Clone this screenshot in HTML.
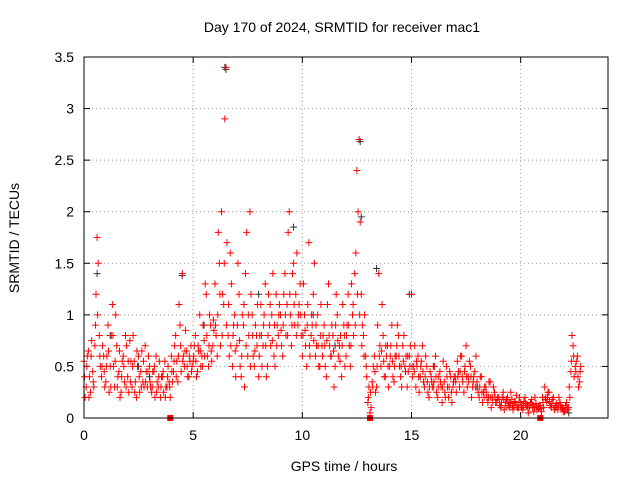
<!DOCTYPE html>
<html><head><meta charset="utf-8"><style>
body{margin:0;background:#fff;}
svg{display:block;font-family:"Liberation Sans",sans-serif;}
</style></head><body>
<svg id="chart" width="640" height="480" viewBox="0 0 640 480">
<rect x="0" y="0" width="640" height="480" fill="#fff"/>
<text x="342" y="32" font-size="14" text-anchor="middle">Day 170 of 2024, SRMTID for receiver mac1</text>
<text x="344" y="471" font-size="14" text-anchor="middle">GPS time / hours</text>
<text transform="translate(19,238) rotate(-90)" font-size="14" text-anchor="middle">SRMTID / TECUs</text>
<g id="grid"></g>
<g id="axes"></g>
<g id="marks"></g>
<rect x="84" y="57" width="524" height="361" fill="none" stroke="#000" stroke-width="1"/>
</svg>
<script>
const xTicks=[0,5,10,15,20];
const yTicks=[0,0.5,1,1.5,2,2.5,3,3.5];
const yTickLabels=["0","0.5","1","1.5","2","2.5","3","3.5"];
const redA=[0.55,0.3,0.65,0.25,0.45,0.7,1.75,0.8,0.4,0.6,
0.35,0.9,0.5,1.1,0.3,0.7,0.45,0.25,0.6,0.8,
0.4,0.75,0.3,0.55,0.2,0.6,0.45,0.35,0.7,0.3,
0.5,0.25,0.45,0.6,0.3,0.2,0.4,0.55,0.3,0.35,
0.6,0.45,0.8,0.35,0.9,1.4,0.5,0.65,0.4,0.7,
0.55,0.8,0.45,1.0,0.6,0.75,1.2,0.5,0.9,0.7,
1.3,0.6,1.5,2.0,1.1,3.4,0.8,1.6,0.5,1.0,
0.7,1.2,0.4,0.9,1.4,0.6,2.0,1.0,0.5,0.8,
0.4,1.1,0.7,1.3,0.5,0.9,1.0,0.6,1.2,0.8,
1.0,0.6,1.4,1.1,2.0,0.7,1.5,1.2,0.9,1.3,
0.6,1.0,0.5,1.7,0.8,1.2,0.6,1.0,0.5,0.7,
0.9,0.4,1.3,0.6,0.8,0.5,1.0,0.7,0.4,0.9,
0.6,1.2,0.5,1.0,1.4,2.4,2.7,1.2,0.8,0.6,
0.15,0.05,0.35,0.6,0.3,1.4,0.5,0.8,0.4,0.7,
0.5,0.9,0.35,0.6,0.8,0.4,0.7,0.5,0.3,0.6,
1.2,0.5,0.3,0.6,0.4,0.7,0.3,0.5,0.2,0.4,
0.3,0.6,0.2,0.45,0.15,0.35,0.5,0.2,0.4,0.3,
0.4,0.55,0.3,0.6,0.25,0.7,0.4,0.5,0.3,0.45,
0.35,0.2,0.4,0.25,0.3,0.15,0.35,0.2,0.25,0.15,
0.2,0.1,0.25,0.15,0.2,0.1,0.18,0.12,0.22,0.1,
0.15,0.08,0.2,0.12,0.1,0.18,0.06,0.14,0.1,0.12,
0.2,0.3,0.15,0.25,0.1,0.2,0.12,0.08,0.15,0.1,
0.06,0.15,0.1,0.45,0.7,0.5,0.6,0.35];
const redB=[0.2,0.6,0.4,0.75,0.3,1.2,1.5,0.5,0.7,0.3,
0.6,0.25,0.8,0.5,1.0,0.4,0.2,0.55,0.35,0.7,
0.25,0.55,0.8,0.35,0.5,0.25,0.65,0.3,0.45,0.6,
0.3,0.45,0.2,0.35,0.55,0.4,0.25,0.3,0.5,0.2,
0.35,0.7,0.55,1.1,0.45,0.6,0.85,0.4,0.55,0.5,
0.7,0.4,0.65,0.5,0.9,1.3,0.6,1.0,0.55,0.85,
0.8,1.8,0.7,1.2,2.9,1.7,0.6,1.3,0.9,0.4,
1.5,0.5,1.0,0.3,1.8,0.8,1.2,0.6,0.9,1.1,
0.8,0.5,1.0,0.4,1.2,0.7,1.4,0.5,0.9,1.1,
0.7,1.2,0.8,1.8,1.0,1.4,0.9,1.6,1.1,0.8,
1.3,0.7,1.1,0.6,0.9,1.5,0.7,0.5,1.1,0.8,
0.5,1.1,0.7,0.9,0.3,1.2,0.6,0.8,1.1,0.5,
0.9,0.7,1.3,0.8,1.6,2.0,1.9,0.9,1.0,0.4,
0.3,0.1,0.5,0.25,0.9,0.7,1.1,0.4,0.6,0.3,
0.7,0.4,0.6,0.9,0.5,0.3,0.8,0.6,0.45,0.7,
0.4,0.7,0.5,0.25,0.55,0.35,0.6,0.25,0.45,0.3,
0.5,0.25,0.4,0.3,0.55,0.2,0.3,0.45,0.15,0.4,
0.25,0.45,0.6,0.35,0.5,0.3,0.55,0.2,0.4,0.6,
0.25,0.4,0.15,0.3,0.2,0.35,0.1,0.3,0.15,0.2,
0.12,0.2,0.08,0.18,0.12,0.25,0.08,0.15,0.1,0.2,
0.1,0.16,0.12,0.05,0.15,0.1,0.2,0.08,0.12,0.06,
0.1,0.2,0.25,0.12,0.18,0.08,0.14,0.2,0.1,0.06,
0.12,0.08,0.2,0.8,0.4,0.55,0.3,0.5];
const redC=[0.4,0.5,0.2,0.6,0.35,0.9,1.0,0.6,0.5,0.45,
0.5,0.65,0.3,0.8,0.55,0.3,0.65,0.4,0.5,0.3,
0.55,0.35,0.5,0.25,0.65,0.4,0.3,0.55,0.35,0.45,
0.35,0.3,0.5,0.25,0.4,0.3,0.45,0.2,0.4,0.3,
0.45,0.55,0.4,0.6,0.7,0.55,0.65,0.5,0.6,0.45,
0.6,0.55,0.7,0.65,0.5,0.6,0.8,0.7,0.65,0.95,
0.9,1.0,1.2,0.8,1.5,0.9,1.1,0.7,0.8,0.65,
0.9,0.75,0.6,1.1,0.7,1.0,0.5,0.8,0.65,0.7,
0.6,0.8,0.9,0.7,0.8,1.1,0.75,0.9,0.7,1.0,
0.85,0.9,1.0,0.8,1.2,0.9,1.1,0.8,1.0,1.0,
0.8,0.85,0.9,0.7,1.0,0.75,0.9,0.7,0.8,0.6,
0.7,0.75,0.8,0.6,0.65,0.9,0.75,0.55,0.7,0.8,
0.8,0.9,0.7,1.1,0.9,1.2,1.0,0.7,0.6,0.5,
0.2,0.25,0.3,0.45,0.5,0.6,0.65,0.55,0.7,0.5,
0.6,0.55,0.5,0.7,0.6,0.5,0.55,0.45,0.6,0.5,
0.5,0.45,0.55,0.4,0.5,0.45,0.4,0.35,0.3,0.35,
0.35,0.4,0.3,0.35,0.3,0.25,0.4,0.3,0.25,0.35,
0.35,0.4,0.45,0.4,0.45,0.4,0.35,0.4,0.35,0.3,
0.3,0.3,0.25,0.2,0.25,0.2,0.2,0.15,0.2,0.18,
0.15,0.15,0.18,0.12,0.15,0.14,0.12,0.16,0.12,0.15,
0.12,0.12,0.14,0.1,0.12,0.13,0.1,0.11,0.1,0.09,
0.15,0.18,0.2,0.16,0.14,0.12,0.1,0.12,0.12,0.1,
0.08,0.1,0.3,0.55,0.6,0.45,0.4,0.45];
const greyT=[0.6,1.2,4.5,6.45,6.5,9.6,12.65,12.7,14.9,13.4,22.2,3.0,8.0,10.5,16.0,18.0,19.5,2.5,5.5,11.5];
const greyV=[1.4,0.8,1.38,3.4,3.38,1.85,2.68,1.95,1.2,1.45,0.05,0.4,1.2,1.0,0.5,0.3,0.15,0.5,0.9,0.7];
const gapT=[3.95,13.1,20.9];

const X0=84,X1=608,Y0=418,Y1=57;
const xs=t=>X0+t*(X1-X0)/24;
const ys=v=>Y0-v*(Y0-Y1)/3.5;
const NS="http://www.w3.org/2000/svg";
const grid=document.getElementById('grid'),axes=document.getElementById('axes'),marks=document.getElementById('marks');
function mk(tag,attrs,parent){const e=document.createElementNS(NS,tag);for(const k in attrs)e.setAttribute(k,attrs[k]);parent.appendChild(e);return e;}
xTicks.forEach(t=>{const x=xs(t);
 if(t>0){const g=mk('line',{x1:x,y1:Y0,x2:x,y2:Y1,stroke:'#999','stroke-dasharray':'1,3'},grid);
 
 }
 mk('line',{x1:x,y1:Y0,x2:x,y2:Y0-6,stroke:'#000'},axes);
 mk('line',{x1:x,y1:Y1,x2:x,y2:Y1+6,stroke:'#000'},axes);
 const l=mk('text',{x:x,y:Y0+22,'font-size':14,'text-anchor':'middle'},axes);l.textContent=t;
 
 
});
yTicks.forEach((v,i)=>{const y=ys(v);
 if(v>0&&v<3.5){const g=mk('line',{x1:X0,y1:y,x2:X1,y2:y,stroke:'#999','stroke-dasharray':'1,3'},grid);
 
 }
 mk('line',{x1:X0,y1:y,x2:X0+6,y2:y,stroke:'#000'},axes);
 mk('line',{x1:X1,y1:y,x2:X1-6,y2:y,stroke:'#000'},axes);
 const l=mk('text',{x:X0-10,y:y+5,'font-size':14,'text-anchor':'end'},axes);l.textContent=yTickLabels[i];
 
 
});
function plus(t,v,c,name){const x=xs(t),y=ys(v);
 const p=mk('path',{d:`M${x-3.5},${y}h7M${x},${y-3.5}v7`,stroke:c,'stroke-width':1,fill:'none'},marks);
 
 }
greyT.forEach((t,i)=>plus(t,greyV[i],'#333','grey-point'));
redA.forEach((v,i)=>plus(i*0.1,v,'#f00','red-point'));
redB.forEach((v,i)=>plus(i*0.1+0.05,v,'#f00','red-point'));
redC.forEach((v,i)=>plus(i*0.1+0.025,v,'#f00','red-point'));
gapT.forEach(t=>{const r=mk('rect',{x:xs(t)-3,y:Y0-3,width:6,height:6,fill:'#f00'},marks);
 
 });
</script>
</body></html>
